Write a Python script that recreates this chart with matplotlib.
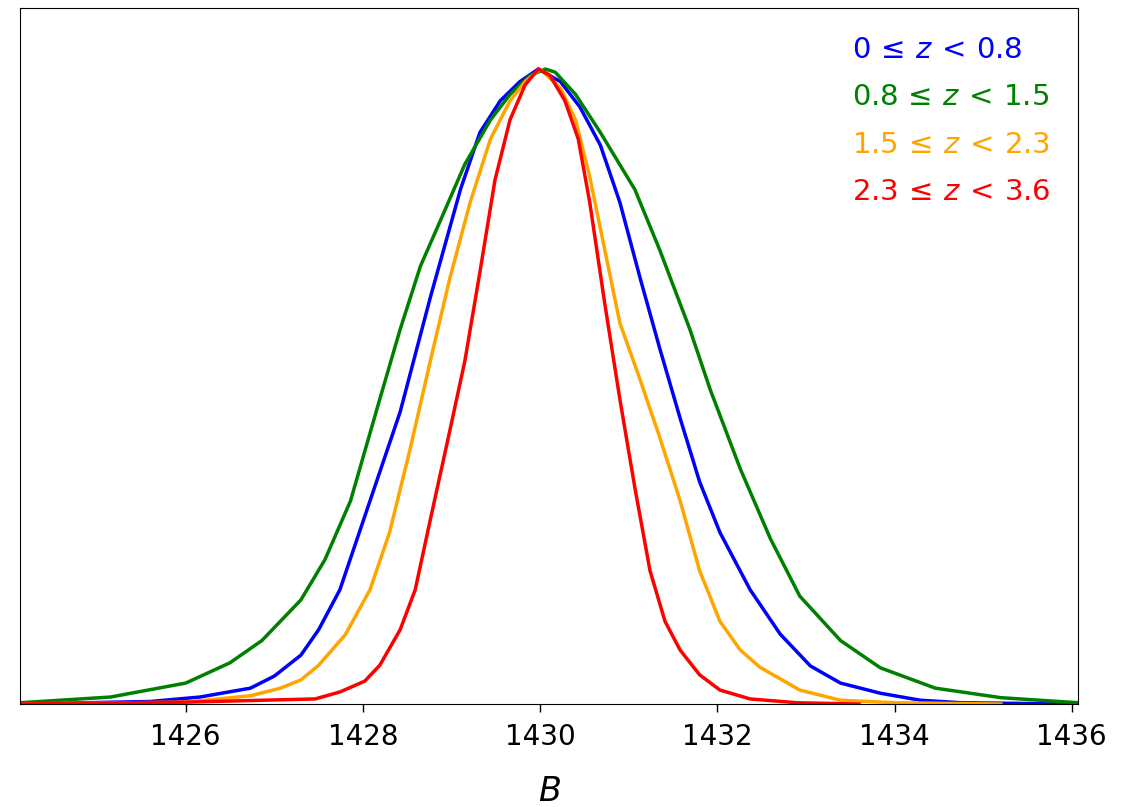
import numpy as np
import matplotlib.pyplot as plt

# normalised posteriors of B for four redshift bins
b_green = [1424.13, 1425.15, 1426.0, 1426.5, 1426.86, 1427.3, 1427.57, 1427.86, 1428.19, 1428.42,
           1428.65, 1428.87, 1429.15, 1429.44, 1429.66, 1429.89, 1430.06, 1430.17, 1430.4, 1430.68,
           1431.07, 1431.35, 1431.69, 1431.92, 1432.26, 1432.6, 1432.93, 1433.39, 1433.84, 1434.46,
           1435.2, 1436.07]
p_green = [0.002, 0.011, 0.033, 0.065, 0.10, 0.164, 0.227, 0.32, 0.48, 0.59,
           0.69, 0.76, 0.85, 0.92, 0.96, 0.99, 1.0, 0.995, 0.96, 0.90,
           0.81, 0.715, 0.59, 0.495, 0.37, 0.26, 0.17, 0.10, 0.057, 0.025,
           0.01, 0.002]

b_blue = [1424.13, 1425.6, 1426.16, 1426.73, 1427.0, 1427.3, 1427.5, 1427.74, 1428.08, 1428.42,
          1428.76, 1429.1, 1429.32, 1429.55, 1429.77, 1429.98, 1430.23, 1430.45, 1430.68, 1430.9,
          1431.13, 1431.35, 1431.58, 1431.8, 1432.03, 1432.37, 1432.71, 1433.05, 1433.39, 1433.84,
          1434.29, 1434.75, 1436.07]
p_blue = [0.0, 0.004, 0.011, 0.025, 0.044, 0.077, 0.117, 0.18, 0.32, 0.46,
          0.64, 0.81, 0.90, 0.95, 0.98, 1.0, 0.98, 0.94, 0.88, 0.79,
          0.67, 0.56, 0.45, 0.35, 0.27, 0.18, 0.11, 0.06, 0.033, 0.017,
          0.006, 0.002, 0.0]

b_orange = [1424.13, 1426.0, 1426.73, 1427.07, 1427.3, 1427.5, 1427.8, 1428.08, 1428.3, 1428.53,
            1428.76, 1428.98, 1429.21, 1429.44, 1429.66, 1429.83, 1430.0, 1430.23, 1430.4, 1430.56,
            1430.73, 1430.9, 1431.13, 1431.35, 1431.58, 1431.8, 1432.03, 1432.26, 1432.48, 1432.93,
            1433.39, 1434.0, 1435.2]
p_orange = [0.0, 0.003, 0.013, 0.025, 0.038, 0.061, 0.109, 0.18, 0.27, 0.40,
            0.54, 0.67, 0.79, 0.89, 0.95, 0.98, 1.0, 0.97, 0.92, 0.83,
            0.715, 0.60, 0.51, 0.42, 0.32, 0.21, 0.13, 0.085, 0.058, 0.022,
            0.006, 0.002, 0.0]

b_red = [1424.13, 1426.0, 1427.46, 1427.74, 1428.02, 1428.19, 1428.42, 1428.59, 1428.76, 1428.98,
         1429.15, 1429.32, 1429.49, 1429.66, 1429.83, 1429.98, 1430.11, 1430.28, 1430.43, 1430.56,
         1430.73, 1430.9, 1431.07, 1431.24, 1431.41, 1431.58, 1431.8, 1432.03, 1432.37, 1432.9,
         1433.6]
p_red = [0.0, 0.003, 0.008, 0.019, 0.036, 0.061, 0.117, 0.18, 0.29, 0.43,
         0.54, 0.68, 0.825, 0.92, 0.975, 1.0, 0.99, 0.95, 0.89, 0.79,
         0.63, 0.48, 0.34, 0.21, 0.13, 0.085, 0.046, 0.022, 0.008, 0.002,
         0.0]

labels = [r'$0\,\leq\,z\,<\,0.8$', r'$0.8\,\leq\,z\,<\,1.5$',
          r'$1.5\,\leq\,z\,<\,2.3$', r'$2.3\,\leq\,z\,<\,3.6$']
colors = ['blue', 'green', 'orange', 'red']

fig = plt.figure(figsize=(11.39, 8.07), dpi=100)
ax = fig.add_axes([0.0176, 0.1276, 0.9288, 0.8624])

ax.plot(b_blue, p_blue, color=colors[0], lw=2.5, label=labels[0])
ax.plot(b_green, p_green, color=colors[1], lw=2.5, label=labels[1])
ax.plot(b_orange, p_orange, color=colors[2], lw=2.5, label=labels[2])
ax.plot(b_red, p_red, color=colors[3], lw=2.5, label=labels[3])

ax.set_xlim(1424.13, 1436.07)
ax.set_ylim(0, 1.096)
ax.set_xticks([1426, 1428, 1430, 1432, 1434, 1436])
ax.set_yticks([])
ax.tick_params(axis='x', labelsize=20, length=6, width=1, pad=8)
ax.set_xlabel(r'$B$', fontsize=24, labelpad=17)

leg = ax.legend(loc='upper right', frameon=False, fontsize=21, handlelength=0,
                handletextpad=0, labelcolor='linecolor', borderaxespad=0.55,
                labelspacing=0.67)
for h in leg.legend_handles:
    h.set_visible(False)

fig.savefig('out.png', dpi=100)
